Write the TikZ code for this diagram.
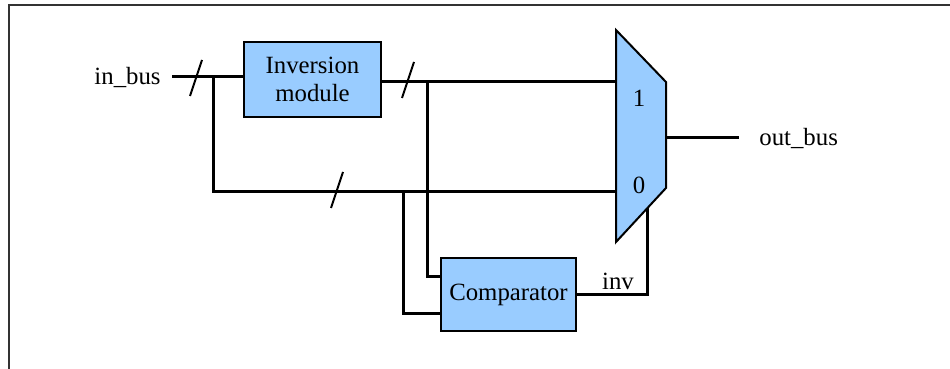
\documentclass[tikz,border=0pt]{standalone}
\usepackage{xcolor}
\usepackage{tikz}
\usepackage{fontspec}
\setmainfont{Liberation Serif}
\usetikzlibrary{shapes,arrows,positioning}
\definecolor{boxblue}{HTML}{99CCFF}

\begin{document}
\begin{tikzpicture}[x=0.5pt, y=-0.5pt,
                   font=\fontsize{12.4}{14}\selectfont,
                   wire/.style={line width=1.5pt},
                   block/.style={draw, line width=1pt, fill=boxblue, align=center, inner sep=0pt},
                   busmark/.style={line width=1pt}]
  \useasboundingbox (0,0) rectangle (950,369);
  \draw[line width=1pt, black!80] (9,369) -- (9,5) -- (950,5);

  % blocks
  \node[block, minimum width=68.5pt, minimum height=37.5pt] (invm) at (312.5,79.5) {Inversion\\module};
  \node[block, minimum width=67.5pt, minimum height=36.5pt] (cmp) at (508.5,294.5) {Comparator};
  \draw[block] (616,30) coordinate (muxtl) -- (666,82) -- (666,188) -- (616,242) -- cycle;
  \coordinate (in1) at (616,82);
  \coordinate (in0) at (616,192);
  \coordinate (muxout) at (666,138);
  \coordinate (sel) at (647,208.5);
  \node (one) at (639,98) {1};
  \node (zero) at (639,185) {0};

  % labels
  \node[anchor=east, inner sep=2pt] (inbus) at (165,77) {in\_bus};
  \node[anchor=west, inner sep=2pt] (outbus) at (755,138) {out\_bus};
  \coordinate (outend) at (739,138);

  % wires
  \coordinate (j1) at (213,77);
  \coordinate (j2) at (427,82);
  \coordinate (j3) at (403,192);
  \draw[wire] (172,77) -- (invm.west |- j1);
  \draw[wire] (j1) -- (j1 |- in0) -- (in0);
  \draw[wire] (invm.east |- in1) -- (in1);
  \draw[wire] (j2) -- (427,277) -- (cmp.west |- 0,277);
  \draw[wire] (j3) -- (403,314) -- (cmp.west |- 0,314);
  \draw[wire] (cmp.east) -| (sel);
  \draw[wire] (muxout) -- (outend);
  \node[anchor=south, inner sep=1pt] (invlab) at (618,292) {inv};

  % bus slashes
  \foreach \x/\y in {196/78, 408/80, 337/190}
    \draw[busmark] (\x-6,\y+18) -- (\x+6,\y-18);
\end{tikzpicture}
\end{document}
